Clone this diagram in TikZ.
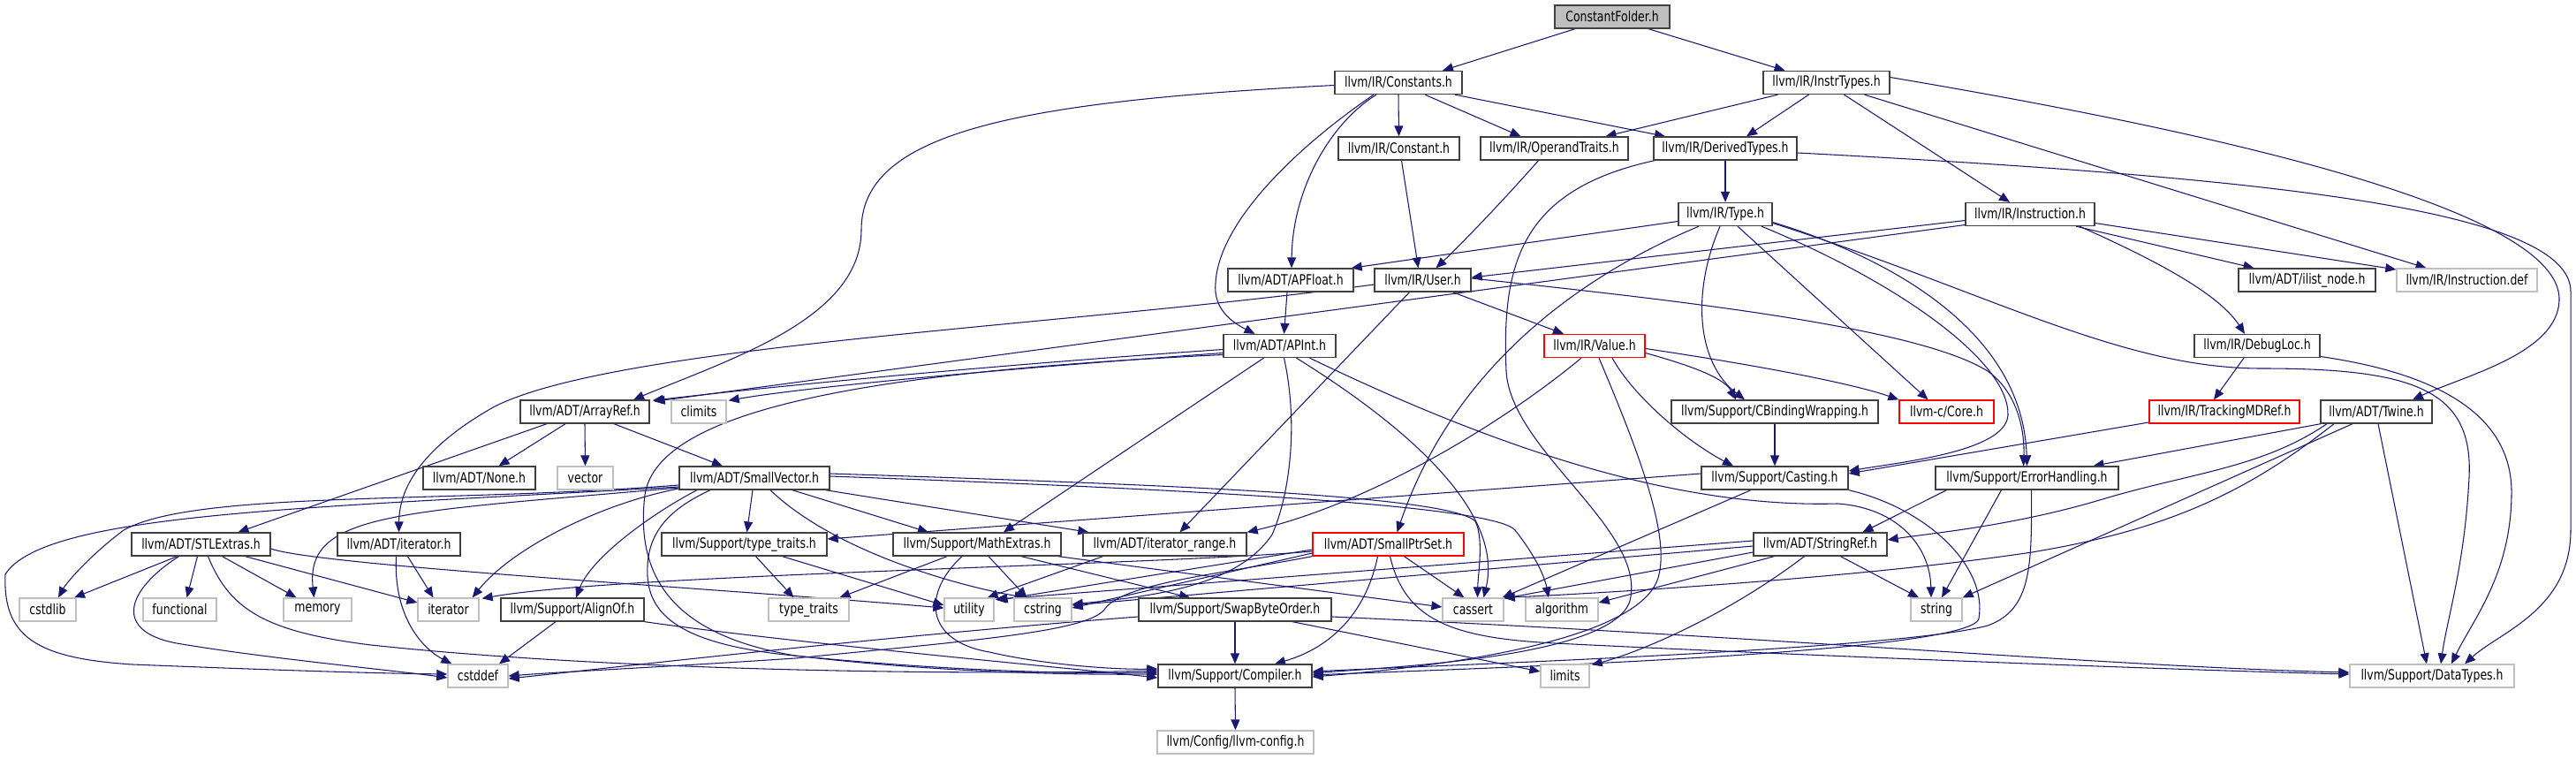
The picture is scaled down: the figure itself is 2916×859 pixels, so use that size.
\documentclass[tikz,border=0pt]{standalone}
\usepackage{fontspec}
\setmainfont{DejaVu Sans}[FakeStretch=0.78]
\usetikzlibrary{arrows.meta,calc}
\pgfdeclarelayer{edges}
\pgfsetlayers{edges,main}
\definecolor{edgec}{HTML}{191970}
\definecolor{grayb}{HTML}{BFBFBF}
\definecolor{nodeb}{HTML}{404040}
\tikzset{
 box/.style={draw=nodeb, line width=1pt, fill=white, inner sep=0pt, minimum height=19.5pt, font=\fontsize{12pt}{14pt}\selectfont},
 sysbox/.style={box, draw=grayb},
 redbox/.style={box, draw=red},
 rootbox/.style={box, fill=grayb},
 e/.style={draw=edgec, line width=0.8pt, -{Triangle[length=9pt,width=7.5pt]}},
}
\newcommand\nd[6]{\pgfmathsetmacro\ndw{#4*0.75}\node[#5, minimum width=\ndw pt] (#1) at (#2,#3) {#6};}
\begin{document}
\begin{tikzpicture}[x=0.75pt,y=-0.75pt]
\useasboundingbox (0,0) rectangle (2916,859);
% row 0
\nd{CF}{1825}{19}{130}{rootbox}{ConstantFolder.h}
% row 1
\nd{Constants}{1583}{93.5}{144}{box}{llvm/IR/Constants.h}
\nd{InstrTypes}{2067.5}{93.5}{143}{box}{llvm/IR/InstrTypes.h}
% row 2
\nd{Constant}{1583.5}{168}{137}{box}{llvm/IR/Constant.h}
\nd{OperandTraits}{1759.5}{168}{167}{box}{llvm/IR/OperandTraits.h}
\nd{DerivedTypes}{1953}{168}{162}{box}{llvm/IR/DerivedTypes.h}
% row 3
\nd{Type}{1953}{242.5}{106}{box}{llvm/IR/Type.h}
\nd{Instruction}{2298}{242.5}{146}{box}{llvm/IR/Instruction.h}
% row 4
\nd{APFloat}{1461}{317}{142}{box}{llvm/ADT/APFloat.h}
\nd{User}{1610.5}{317}{109}{box}{llvm/IR/User.h}
\nd{ilistnode}{2611.5}{317}{155}{box}{llvm/ADT/ilist\_node.h}
\nd{InstrDef}{2792.5}{317}{159}{sysbox}{llvm/IR/Instruction.def}
% row 5
\nd{APInt}{1448.5}{391.5}{127}{box}{llvm/ADT/APInt.h}
\nd{Value}{1805}{391.5}{114}{redbox}{llvm/IR/Value.h}
\nd{DebugLoc}{2555}{391.5}{142}{box}{llvm/IR/DebugLoc.h}
% row 6
\nd{ArrayRef}{662}{466}{146}{box}{llvm/ADT/ArrayRef.h}
\nd{climits}{791}{466}{62}{sysbox}{climits}
\nd{CBW}{2009}{466}{234}{box}{llvm/Support/CBindingWrapping.h}
\nd{Core}{2203.5}{466}{107}{redbox}{llvm-c/Core.h}
\nd{TrackingMDRef}{2518}{466}{170}{redbox}{llvm/IR/TrackingMDRef.h}
\nd{Twine}{2690}{466}{126}{box}{llvm/ADT/Twine.h}
% row 7
\nd{None}{542.5}{541}{127}{box}{llvm/ADT/None.h}
\nd{vector}{662.5}{541}{63}{sysbox}{vector}
\nd{SmallVector}{854}{541}{170}{box}{llvm/ADT/SmallVector.h}
\nd{Casting}{2009}{541}{166}{box}{llvm/Support/Casting.h}
\nd{ErrorHandling}{2294.5}{541}{207}{box}{llvm/Support/ErrorHandling.h}
% row 8
\nd{STLExtras}{227.5}{616}{157}{box}{llvm/ADT/STLExtras.h}
\nd{iteratorh}{451.5}{616}{139}{box}{llvm/ADT/iterator.h}
\nd{typetraitsh}{842.5}{616}{187}{box}{llvm/Support/type\_traits.h}
\nd{MathExtras}{1106}{616}{190}{box}{llvm/Support/MathExtras.h}
\nd{iterrange}{1318.5}{616}{185}{box}{llvm/ADT/iterator\_range.h}
\nd{SmallPtrSet}{1571.5}{616}{171}{redbox}{llvm/ADT/SmallPtrSet.h}
\nd{StringRef}{2060.5}{616}{151}{box}{llvm/ADT/StringRef.h}
% row 9
\nd{cstdlib}{54}{690}{64}{sysbox}{cstdlib}
\nd{functional}{203.5}{690}{83}{sysbox}{functional}
\nd{memory}{359.5}{690}{77}{sysbox}{memory}
\nd{iterator}{507.5}{690}{69}{sysbox}{iterator}
\nd{AlignOf}{648}{690}{162}{box}{llvm/Support/AlignOf.h}
\nd{typetraits}{915.5}{690}{91}{sysbox}{type\_traits}
\nd{utility}{1097}{690}{56}{sysbox}{utility}
\nd{cstring}{1180.5}{690}{65}{sysbox}{cstring}
\nd{SwapByteOrder}{1398}{690}{218}{box}{llvm/Support/SwapByteOrder.h}
\nd{cassert}{1667.5}{690}{69}{sysbox}{cassert}
\nd{algorithm}{1768}{690}{82}{sysbox}{algorithm}
\nd{string}{2192}{690}{58}{sysbox}{string}
% row 10
\nd{cstddef}{541}{765}{68}{sysbox}{cstddef}
\nd{Compiler}{1398}{765}{174}{box}{llvm/Support/Compiler.h}
\nd{limits}{1771.5}{765}{55}{sysbox}{limits}
\nd{DataTypes}{2753}{765}{186}{sysbox}{llvm/Support/DataTypes.h}
% row 11
\nd{llvmconfig}{1398.5}{840}{177}{sysbox}{llvm/Config/llvm-config.h}

\begin{pgfonlayer}{edges}
% ConstantFolder
\draw[e] ($(CF.south)+(-42,0)$) -- ($(Constants.north)+(50,0)$);
\draw[e] ($(CF.south)+(41,0)$) -- ($(InstrTypes.north)+(-47,0)$);
% Constants
\draw[e] (Constants.south) -- (Constant.north);
\draw[e] ($(Constants.south)+(30,0)$) -- ($(OperandTraits.north)+(-38,0)$);
\draw[e] ($(Constants.south)+(64,0)$) -- ($(DerivedTypes.north)+(-68,0)$);
\draw[e] ($(Constants.south)+(-25,0)$) .. controls (1505,140) and (1463,215) .. ($(APFloat.north)+(1,0)$);
\draw[e] ($(Constants.south)+(-28,0)$) .. controls (1470,165) and (1380,250) .. (1376,320) .. controls (1373,350) and (1395,365) .. ($(APInt.north)+(-28,0)$);
\draw[e] ($(Constants.west)+(0,3)$) .. controls (1150,115) and (975,150) .. (975,260) .. controls (975,360) and (830,405) .. ($(ArrayRef.north)+(55,0)$);
% InstrTypes
\draw[e] ($(InstrTypes.south)+(-55,0)$) -- ($(OperandTraits.north)+(58,0)$);
\draw[e] ($(InstrTypes.south)+(-20,0)$) -- ($(DerivedTypes.north)+(24,0)$);
\draw[e] ($(InstrTypes.south)+(20,0)$) -- ($(Instruction.north)+(-23,0)$);
\draw[e] ($(InstrTypes.south)+(43,0)$) -- ($(InstrDef.north)+(-46,0)$);
\draw[e] ($(InstrTypes.east)+(0,-6)$) .. controls (2600,165) and (2900,250) .. (2897,340) .. controls (2895,400) and (2790,425) .. ($(Twine.north)+(41,0)$);
% DerivedTypes
\draw[e] (DerivedTypes.south) -- (Type.north);
\draw[e] ($(DerivedTypes.east)+(0,5)$) .. controls (2550,200) and (2910,235) .. (2910,330) -- (2910,600) .. controls (2910,690) and (2830,715) .. ($(DataTypes.north)+(37,0)$);
\draw[e] ($(DerivedTypes.south)+(-80,0)$) .. controls (1720,215) and (1700,300) .. (1705,420) .. controls (1710,510) and (1865,600) .. (1845,680) .. controls (1825,745) and (1570,755) .. ($(Compiler.east)+(0,-3)$);
% Constant, OperandTraits
\draw[e] ($(Constant.south)+(3,0)$) -- ($(User.north)+(-5,0)$);
\draw[e] ($(OperandTraits.south)+(-18,0)$) .. controls (1690,240) and (1645,285) .. ($(User.north)+(15,0)$);
% Type
\draw[e] ($(Type.west)+(0,8)$) -- ($(APFloat.north east)+(-3,0)$);
\draw[e] ($(Type.south)+(-30,0)$) .. controls (1770,320) and (1640,430) .. ($(SmallPtrSet.north)+(10,0)$);
\draw[e] ($(Type.south)+(-6,0)$) .. controls (1915,330) and (1920,410) .. ($(CBW.north)+(-34,0)$);
\draw[e] ($(Type.south)+(14,0)$) -- ($(Core.north)+(-21,0)$);
\draw[e] ($(Type.south)+(41,0)$) .. controls (2150,320) and (2275,410) .. (2273,470) .. controls (2270,510) and (2160,522) .. ($(Casting.east)+(0,-8)$);
\draw[e] ($(Type.east)+(0,9)$) .. controls (2150,295) and (2290,380) .. (ErrorHandling.north);
\draw[e] ($(Type.east)+(0,10)$) .. controls (2250,330) and (2400,417) .. (2560,417) .. controls (2730,417) and (2800,440) .. (2795,540) .. controls (2790,640) and (2770,700) .. ($(DataTypes.north)+(10,0)$);
% Instruction
\draw[e] ($(Instruction.west)+(0,7)$) -- ($(User.east)+(0,-3)$);
\draw[e] ($(Instruction.west)+(0,12)$) -- ($(ArrayRef.north east)+(5,2)$);
\draw[e] ($(Instruction.south)+(52,0)$) -- ($(ilistnode.north)+(-60,0)$);
\draw[e] ($(Instruction.east)+(0,10)$) -- ($(InstrDef.west)+(0,-12)$);
\draw[e] ($(Instruction.south)+(56,0)$) .. controls (2430,290) and (2510,330) .. ($(DebugLoc.north)+(-14,0)$);
% APFloat
\draw[e] ($(APFloat.south)+(-4,0)$) -- ($(APInt.north)+(5,0)$);
% APInt
\draw[e] ($(APInt.west)+(0,4)$) .. controls (1100,415) and (850,440) .. ($(ArrayRef.north east)+(3,1)$);
\draw[e] ($(APInt.west)+(0,8)$) .. controls (1100,420) and (900,440) .. ($(climits.north east)+(2,1)$);
\draw[e] ($(APInt.west)+(0,10)$) .. controls (1000,420) and (745,460) .. (730,560) .. controls (718,660) and (770,720) .. (900,742) .. controls (1050,760) and (1200,764) .. ($(Compiler.west)+(0,-2)$);
\draw[e] ($(APInt.south)+(-18,0)$) -- ($(MathExtras.north)+(30,0)$);
\draw[e] ($(APInt.south)+(5,0)$) .. controls (1470,480) and (1460,560) .. (1440,605) .. controls (1400,665) and (1300,675) .. ($(cstring.east)+(0,-6)$);
\draw[e] ($(APInt.south)+(19,0)$) .. controls (1620,500) and (1700,590) .. ($(cassert.north)+(12,0)$);
\draw[e] ($(APInt.south)+(34,0)$) .. controls (1700,510) and (1900,575) .. (2080,570) .. controls (2150,575) and (2185,620) .. ($(string.north)+(-6,0)$);
% User
\draw[e] ($(User.west)+(0,5)$) .. controls (1200,370) and (700,390) .. (560,460) .. controls (480,505) and (452,550) .. (iteratorh.north);
\draw[e] ($(User.south)+(-15,0)$) -- ($(iterrange.north)+(17,0)$);
\draw[e] ($(User.south)+(34,0)$) -- ($(Value.north)+(-35,0)$);
\draw[e] ($(User.east)+(0,-2)$) .. controls (1900,340) and (2170,370) .. (2250,420) .. controls (2285,445) and (2292,490) .. ($(ErrorHandling.north)+(-4,0)$);
% Value
\draw[e] ($(Value.south)+(-15,0)$) .. controls (1700,480) and (1550,570) .. (iterrange.north east);
\draw[e] ($(Value.east)+(0,3)$) .. controls (2000,415) and (2100,435) .. (Core.north west);
\draw[e] ($(Value.east)+(0,8)$) .. controls (1900,410) and (1950,425) .. ($(CBW.north)+(-44,0)$);
\draw[e] ($(Value.south)+(20,0)$) .. controls (1850,450) and (1910,500) .. ($(Casting.north)+(-47,0)$);
\draw[e] ($(Value.south)+(5,0)$) .. controls (1850,500) and (1890,600) .. (1878,650) .. controls (1862,730) and (1600,757) .. ($(Compiler.east)+(0,1)$);
% DebugLoc
\draw[e] ($(DebugLoc.south)+(-15,0)$) -- ($(TrackingMDRef.north)+(-12,0)$);
\draw[e] ($(DebugLoc.east)+(0,12)$) .. controls (2740,420) and (2845,460) .. (2843,560) .. controls (2842,650) and (2800,700) .. ($(DataTypes.north)+(22,0)$);
% TrackingMDRef, CBW
\draw[e] ($(TrackingMDRef.west)+(0,12)$) -- ($(Casting.east)+(0,-5)$);
\draw[e] (CBW.south) -- (Casting.north);
% Twine
\draw[e] ($(Twine.south)+(-63,0)$) -- ($(ErrorHandling.north)+(75,0)$);
\draw[e] ($(Twine.south)+(-56,0)$) .. controls (2560,530) and (2480,535) .. (2380,565) .. controls (2280,595) and (2190,603) .. ($(StringRef.east)+(0,-5)$);
\draw[e] ($(Twine.south)+(-48,0)$) .. controls (2540,560) and (2450,600) .. (2300,625) .. controls (2100,655) and (1800,672) .. (cassert.north east);
\draw[e] ($(Twine.south)+(-27,0)$) -- (string.north east);
\draw[e] ($(Twine.south)+(2,0)$) -- ($(DataTypes.north)+(-6,0)$);
% ErrorHandling
\draw[e] ($(ErrorHandling.south)+(-91,0)$) -- ($(StringRef.north)+(48,0)$);
\draw[e] ($(ErrorHandling.south)+(-29,0)$) -- ($(string.north)+(6,0)$);
\draw[e] ($(ErrorHandling.south)+(5,0)$) .. controls (2300,640) and (2300,690) .. (2250,708) .. controls (2150,735) and (1650,752) .. ($(Compiler.east)+(0,-5)$);
% Casting
\draw[e] ($(Casting.west)+(0,-5)$) -- ($(typetraitsh.east)+(0,-6)$);
\draw[e] ($(Casting.south)+(-27,0)$) -- ($(cassert.north east)+(-2,0)$);
\draw[e] (Casting.south east) .. controls (2180,575) and (2250,640) .. (2240,700) .. controls (2232,740) and (1650,757) .. ($(Compiler.east)+(0,-1)$);
% StringRef
\draw[e] ($(StringRef.west)+(0,-4)$) -- ($(utility.north east)+(1,2)$);
\draw[e] ($(StringRef.west)+(0,2)$) -- ($(cstring.east)+(0,-5)$);
\draw[e] ($(StringRef.west)+(0,9)$) -- ($(cassert.north east)+(0,1)$);
\draw[e] ($(StringRef.south)+(-52,0)$) -- ($(algorithm.east)+(0,-8)$);
\draw[e] ($(StringRef.south)+(-18,0)$) .. controls (1950,700) and (1850,740) .. ($(limits.north east)+(2,1)$);
\draw[e] ($(StringRef.south)+(23,0)$) -- ($(string.north)+(-20,0)$);
% SmallPtrSet
\draw[e] ($(SmallPtrSet.west)+(0,8)$) .. controls (1300,640) and (700,650) .. ($(iterator.north east)+(3,1)$);
\draw[e] ($(SmallPtrSet.west)+(0,6)$) -- ($(utility.north east)+(3,3)$);
\draw[e] ($(SmallPtrSet.west)+(0,10)$) -- ($(cstring.east)+(0,-2)$);
\draw[e] (SmallPtrSet.south west) .. controls (1380,650) and (1270,660) .. (1250,690) .. controls (1230,715) and (1100,725) .. (900,745) .. controls (750,755) and (640,760) .. (cstddef.east);
\draw[e] ($(SmallPtrSet.south)+(18,0)$) -- ($(cassert.north)+(-10,0)$);
\draw[e] ($(SmallPtrSet.south)+(-12,0)$) .. controls (1545,700) and (1500,735) .. ($(Compiler.north)+(45,0)$);
\draw[e] ($(SmallPtrSet.south)+(2,0)$) .. controls (1590,700) and (1640,722) .. (1760,728) .. controls (2000,740) and (2450,758) .. ($(DataTypes.west)+(0,-2)$);
% SmallVector
\draw[e] ($(SmallVector.west)+(0,8)$) .. controls (500,570) and (220,555) .. (140,600) .. controls (100,630) and (75,660) .. ($(cstdlib.north)+(12,0)$);
\draw[e] ($(SmallVector.west)+(0,10)$) .. controls (350,575) and (50,580) .. (6,650) .. controls (3,720) and (40,745) .. (150,752) .. controls (300,758) and (420,762) .. ($(cstddef.west)+(0,-2)$);
\draw[e] ($(SmallVector.west)+(0,11)$) .. controls (450,580) and (345,580) .. ($(memory.north)+(-4,0)$);
\draw[e] ($(SmallVector.west)+(0,12)$) .. controls (680,570) and (580,620) .. ($(iterator.north east)+(-8,0)$);
\draw[e] ($(SmallVector.south)+(-65,0)$) .. controls (740,580) and (670,630) .. ($(AlignOf.north)+(4,0)$);
\draw[e] ($(SmallVector.south)+(-50,0)$) .. controls (760,575) and (735,600) .. (733,640) .. controls (730,690) and (760,725) .. (880,740) .. controls (1050,758) and (1200,763) .. ($(Compiler.west)+(0,-4)$);
\draw[e] ($(SmallVector.south)+(-2,0)$) -- ($(typetraitsh.north)+(3,0)$);
\draw[e] ($(SmallVector.south)+(18,0)$) .. controls (940,620) and (1070,660) .. ($(cstring.north)+(-20,0)$);
\draw[e] ($(SmallVector.south)+(43,0)$) -- ($(MathExtras.north)+(-55,0)$);
\draw[e] ($(SmallVector.south east)+(-5,0)$) -- ($(iterrange.north west)+(7,0)$);
\draw[e] ($(SmallVector.east)+(0,-5)$) .. controls (1300,548) and (1640,560) .. (1670,590) .. controls (1680,610) and (1673,650) .. ($(cassert.north)+(5,0)$);
\draw[e] ($(SmallVector.east)+(0,-2)$) .. controls (1300,552) and (1690,570) .. (1715,600) .. controls (1735,625) and (1748,650) .. ($(algorithm.north)+(-15,0)$);
% ArrayRef
\draw[e] ($(ArrayRef.south)+(-22,0)$) -- ($(None.north)+(22,0)$);
\draw[e] (ArrayRef.south) -- (vector.north);
\draw[e] ($(ArrayRef.south)+(33,0)$) -- ($(SmallVector.north)+(-36,0)$);
\draw[e] ($(ArrayRef.south)+(-43,0)$) -- ($(STLExtras.north)+(42,0)$);
% STLExtras
\draw[e] ($(STLExtras.south)+(-27,0)$) -- ($(cstdlib.north)+(30,0)$);
\draw[e] ($(STLExtras.south)+(-25,0)$) .. controls (140,670) and (130,715) .. (200,728) .. controls (300,745) and (440,758) .. ($(cstddef.west)+(0,2)$);
\draw[e] ($(STLExtras.south)+(-4,0)$) -- ($(functional.north)+(8,0)$);
\draw[e] ($(STLExtras.south)+(24,0)$) -- ($(memory.north)+(-24,0)$);
\draw[e] ($(STLExtras.south)+(50,0)$) -- ($(iterator.west)+(0,-8)$);
\draw[e] ($(STLExtras.south)+(8,0)$) .. controls (260,690) and (300,715) .. (420,730) .. controls (700,760) and (1100,764) .. ($(Compiler.west)+(0,-6)$);
\draw[e] ($(STLExtras.east)+(0,5)$) .. controls (360,640) and (800,665) .. ($(utility.west)+(0,-2)$);
% iterator.h
\draw[e] ($(iteratorh.south)+(-3,0)$) .. controls (445,700) and (480,735) .. ($(cstddef.north west)+(5,0)$);
\draw[e] ($(iteratorh.south)+(10,0)$) -- ($(iterator.north)+(-17,0)$);
% type_traits.h
\draw[e] ($(typetraitsh.south)+(13,0)$) -- ($(typetraits.north)+(-17,0)$);
\draw[e] ($(typetraitsh.south)+(43,0)$) -- ($(utility.west)+(0,-5)$);
% MathExtras
\draw[e] ($(MathExtras.south)+(-34,0)$) -- ($(typetraits.north)+(35,0)$);
\draw[e] ($(MathExtras.south)+(-17,0)$) .. controls (1045,670) and (1045,725) .. (1120,738) .. controls (1180,752) and (1260,758) .. ($(Compiler.west)+(0,-8)$);
\draw[e] ($(MathExtras.south)+(13,0)$) -- ($(cstring.north)+(-18,0)$);
\draw[e] ($(MathExtras.south)+(50,0)$) -- ($(SwapByteOrder.north)+(-51,0)$);
\draw[e] ($(MathExtras.south east)+(-4,0)$) -- ($(cassert.west)+(0,-3)$);
% iterator_range
\draw[e] ($(iterrange.south)+(-70,0)$) -- ($(utility.north east)+(-8,0)$);
% AlignOf
\draw[e] ($(AlignOf.south)+(-19,0)$) -- ($(cstddef.north)+(24,0)$);
\draw[e] (AlignOf.south east) .. controls (900,728) and (1200,755) .. ($(Compiler.west)+(0,2)$);
% SwapByteOrder
\draw[e] ($(SwapByteOrder.west)+(0,8)$) .. controls (1000,720) and (700,755) .. ($(cstddef.east)+(0,3)$);
\draw[e] (SwapByteOrder.south) -- (Compiler.north);
\draw[e] ($(SwapByteOrder.south)+(65,0)$) -- ($(limits.west)+(0,-5)$);
\draw[e] ($(SwapByteOrder.east)+(0,8)$) .. controls (2000,720) and (2400,755) .. ($(DataTypes.west)+(0,-4)$);
% Compiler
\draw[e] (Compiler.south) -- (llvmconfig.north);
\end{pgfonlayer}
\end{tikzpicture}
\end{document}
